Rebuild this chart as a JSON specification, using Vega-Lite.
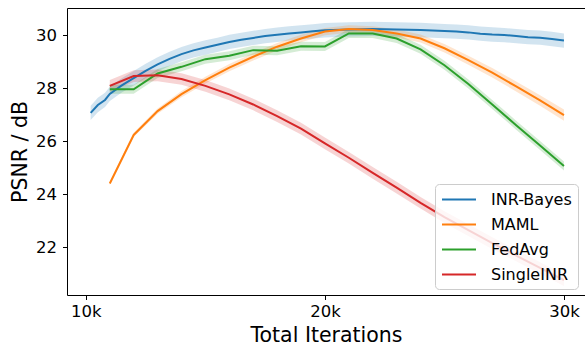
{
  "$schema": "https://vega.github.io/schema/vega-lite/v6.json",
  "width": 518,
  "height": 287,
  "autosize": "none",
  "padding": {"left": 67, "top": 8, "right": 0, "bottom": 48},
  "config": {
    "view": {"stroke": null},
    "font": "DejaVu Sans",
    "axis": {
      "domainColor": "black", "tickColor": "black", "labelColor": "black", "titleColor": "black",
      "labelFont": "DejaVu Sans", "titleFont": "DejaVu Sans",
      "labelFontSize": 16.5, "titleFontSize": 20.5, "titleFontWeight": "normal",
      "tickSize": 4.5, "domainWidth": 1, "tickWidth": 1, "grid": false, "labelFlush": false, "labelOverlap": false
    }
  },
  "data": {"values": [
    {"s": "INR-Bayes", "x": 10200, "y": 27.06, "lo": 26.79, "hi": 27.33},
    {"s": "INR-Bayes", "x": 10500, "y": 27.36, "lo": 27.09, "hi": 27.63},
    {"s": "INR-Bayes", "x": 10800, "y": 27.55, "lo": 27.28, "hi": 27.82},
    {"s": "INR-Bayes", "x": 11000, "y": 27.78, "lo": 27.51, "hi": 28.05},
    {"s": "INR-Bayes", "x": 11500, "y": 28.10, "lo": 27.83, "hi": 28.37},
    {"s": "INR-Bayes", "x": 12000, "y": 28.37, "lo": 28.10, "hi": 28.64},
    {"s": "INR-Bayes", "x": 12500, "y": 28.65, "lo": 28.38, "hi": 28.92},
    {"s": "INR-Bayes", "x": 13000, "y": 28.89, "lo": 28.62, "hi": 29.16},
    {"s": "INR-Bayes", "x": 13500, "y": 29.10, "lo": 28.83, "hi": 29.37},
    {"s": "INR-Bayes", "x": 14000, "y": 29.28, "lo": 29.01, "hi": 29.55},
    {"s": "INR-Bayes", "x": 14500, "y": 29.42, "lo": 29.15, "hi": 29.69},
    {"s": "INR-Bayes", "x": 15000, "y": 29.53, "lo": 29.26, "hi": 29.80},
    {"s": "INR-Bayes", "x": 15500, "y": 29.63, "lo": 29.36, "hi": 29.90},
    {"s": "INR-Bayes", "x": 16000, "y": 29.74, "lo": 29.47, "hi": 30.01},
    {"s": "INR-Bayes", "x": 16500, "y": 29.82, "lo": 29.55, "hi": 30.09},
    {"s": "INR-Bayes", "x": 17000, "y": 29.89, "lo": 29.62, "hi": 30.16},
    {"s": "INR-Bayes", "x": 17500, "y": 29.96, "lo": 29.69, "hi": 30.23},
    {"s": "INR-Bayes", "x": 18000, "y": 30.01, "lo": 29.74, "hi": 30.28},
    {"s": "INR-Bayes", "x": 18500, "y": 30.06, "lo": 29.79, "hi": 30.33},
    {"s": "INR-Bayes", "x": 19000, "y": 30.10, "lo": 29.83, "hi": 30.37},
    {"s": "INR-Bayes", "x": 19500, "y": 30.14, "lo": 29.87, "hi": 30.41},
    {"s": "INR-Bayes", "x": 20000, "y": 30.18, "lo": 29.91, "hi": 30.45},
    {"s": "INR-Bayes", "x": 21000, "y": 30.21, "lo": 29.94, "hi": 30.48},
    {"s": "INR-Bayes", "x": 22000, "y": 30.23, "lo": 29.96, "hi": 30.50},
    {"s": "INR-Bayes", "x": 23000, "y": 30.21, "lo": 29.94, "hi": 30.48},
    {"s": "INR-Bayes", "x": 24000, "y": 30.19, "lo": 29.92, "hi": 30.46},
    {"s": "INR-Bayes", "x": 25000, "y": 30.15, "lo": 29.88, "hi": 30.42},
    {"s": "INR-Bayes", "x": 25500, "y": 30.13, "lo": 29.86, "hi": 30.40},
    {"s": "INR-Bayes", "x": 26000, "y": 30.10, "lo": 29.83, "hi": 30.37},
    {"s": "INR-Bayes", "x": 26500, "y": 30.05, "lo": 29.78, "hi": 30.32},
    {"s": "INR-Bayes", "x": 27000, "y": 30.02, "lo": 29.75, "hi": 30.29},
    {"s": "INR-Bayes", "x": 27500, "y": 30.00, "lo": 29.73, "hi": 30.27},
    {"s": "INR-Bayes", "x": 28000, "y": 29.96, "lo": 29.69, "hi": 30.23},
    {"s": "INR-Bayes", "x": 28500, "y": 29.92, "lo": 29.65, "hi": 30.19},
    {"s": "INR-Bayes", "x": 29000, "y": 29.90, "lo": 29.63, "hi": 30.17},
    {"s": "INR-Bayes", "x": 29500, "y": 29.85, "lo": 29.58, "hi": 30.12},
    {"s": "INR-Bayes", "x": 30000, "y": 29.79, "lo": 29.52, "hi": 30.06},
    {"s": "MAML", "x": 11000, "y": 24.40, "lo": 24.35, "hi": 24.45},
    {"s": "MAML", "x": 12000, "y": 26.23, "lo": 26.15, "hi": 26.31},
    {"s": "MAML", "x": 13000, "y": 27.13, "lo": 27.03, "hi": 27.23},
    {"s": "MAML", "x": 14000, "y": 27.77, "lo": 27.65, "hi": 27.89},
    {"s": "MAML", "x": 15000, "y": 28.30, "lo": 28.17, "hi": 28.43},
    {"s": "MAML", "x": 16000, "y": 28.77, "lo": 28.63, "hi": 28.91},
    {"s": "MAML", "x": 17000, "y": 29.18, "lo": 29.04, "hi": 29.32},
    {"s": "MAML", "x": 18000, "y": 29.56, "lo": 29.42, "hi": 29.70},
    {"s": "MAML", "x": 19000, "y": 29.87, "lo": 29.73, "hi": 30.01},
    {"s": "MAML", "x": 20000, "y": 30.13, "lo": 29.99, "hi": 30.27},
    {"s": "MAML", "x": 21000, "y": 30.23, "lo": 30.09, "hi": 30.37},
    {"s": "MAML", "x": 22000, "y": 30.19, "lo": 30.05, "hi": 30.33},
    {"s": "MAML", "x": 23000, "y": 30.06, "lo": 29.91, "hi": 30.21},
    {"s": "MAML", "x": 24000, "y": 29.87, "lo": 29.72, "hi": 30.02},
    {"s": "MAML", "x": 25000, "y": 29.50, "lo": 29.34, "hi": 29.66},
    {"s": "MAML", "x": 26000, "y": 29.05, "lo": 28.88, "hi": 29.22},
    {"s": "MAML", "x": 27000, "y": 28.58, "lo": 28.40, "hi": 28.76},
    {"s": "MAML", "x": 28000, "y": 28.06, "lo": 27.87, "hi": 28.25},
    {"s": "MAML", "x": 29000, "y": 27.53, "lo": 27.33, "hi": 27.73},
    {"s": "MAML", "x": 30000, "y": 26.98, "lo": 26.77, "hi": 27.19},
    {"s": "FedAvg", "x": 11000, "y": 27.95, "lo": 27.78, "hi": 28.12},
    {"s": "FedAvg", "x": 12000, "y": 27.95, "lo": 27.78, "hi": 28.12},
    {"s": "FedAvg", "x": 13000, "y": 28.55, "lo": 28.38, "hi": 28.72},
    {"s": "FedAvg", "x": 14000, "y": 28.80, "lo": 28.63, "hi": 28.97},
    {"s": "FedAvg", "x": 15000, "y": 29.09, "lo": 28.92, "hi": 29.26},
    {"s": "FedAvg", "x": 16000, "y": 29.22, "lo": 29.05, "hi": 29.39},
    {"s": "FedAvg", "x": 17000, "y": 29.43, "lo": 29.26, "hi": 29.60},
    {"s": "FedAvg", "x": 18000, "y": 29.41, "lo": 29.24, "hi": 29.58},
    {"s": "FedAvg", "x": 19000, "y": 29.58, "lo": 29.41, "hi": 29.75},
    {"s": "FedAvg", "x": 20000, "y": 29.57, "lo": 29.40, "hi": 29.74},
    {"s": "FedAvg", "x": 21000, "y": 30.06, "lo": 29.89, "hi": 30.23},
    {"s": "FedAvg", "x": 22000, "y": 30.06, "lo": 29.89, "hi": 30.23},
    {"s": "FedAvg", "x": 23000, "y": 29.87, "lo": 29.70, "hi": 30.04},
    {"s": "FedAvg", "x": 24000, "y": 29.46, "lo": 29.29, "hi": 29.63},
    {"s": "FedAvg", "x": 25000, "y": 28.86, "lo": 28.69, "hi": 29.03},
    {"s": "FedAvg", "x": 26000, "y": 28.15, "lo": 27.98, "hi": 28.32},
    {"s": "FedAvg", "x": 27000, "y": 27.38, "lo": 27.21, "hi": 27.55},
    {"s": "FedAvg", "x": 28000, "y": 26.60, "lo": 26.43, "hi": 26.77},
    {"s": "FedAvg", "x": 29000, "y": 25.83, "lo": 25.66, "hi": 26.00},
    {"s": "FedAvg", "x": 30000, "y": 25.06, "lo": 24.89, "hi": 25.23},
    {"s": "SingleINR", "x": 11000, "y": 28.08, "lo": 27.86, "hi": 28.30},
    {"s": "SingleINR", "x": 12000, "y": 28.45, "lo": 28.23, "hi": 28.67},
    {"s": "SingleINR", "x": 13000, "y": 28.48, "lo": 28.26, "hi": 28.70},
    {"s": "SingleINR", "x": 14000, "y": 28.34, "lo": 28.12, "hi": 28.56},
    {"s": "SingleINR", "x": 15000, "y": 28.08, "lo": 27.86, "hi": 28.30},
    {"s": "SingleINR", "x": 16000, "y": 27.76, "lo": 27.54, "hi": 27.98},
    {"s": "SingleINR", "x": 17000, "y": 27.38, "lo": 27.16, "hi": 27.60},
    {"s": "SingleINR", "x": 18000, "y": 26.94, "lo": 26.72, "hi": 27.16},
    {"s": "SingleINR", "x": 19000, "y": 26.47, "lo": 26.25, "hi": 26.69},
    {"s": "SingleINR", "x": 20000, "y": 25.91, "lo": 25.69, "hi": 26.13},
    {"s": "SingleINR", "x": 21000, "y": 25.37, "lo": 25.15, "hi": 25.59},
    {"s": "SingleINR", "x": 22000, "y": 24.80, "lo": 24.58, "hi": 25.02},
    {"s": "SingleINR", "x": 23000, "y": 24.24, "lo": 24.02, "hi": 24.46},
    {"s": "SingleINR", "x": 24000, "y": 23.67, "lo": 23.45, "hi": 23.89},
    {"s": "SingleINR", "x": 25000, "y": 23.13, "lo": 22.91, "hi": 23.35},
    {"s": "SingleINR", "x": 26000, "y": 22.64, "lo": 22.42, "hi": 22.86},
    {"s": "SingleINR", "x": 27000, "y": 22.15, "lo": 21.93, "hi": 22.37},
    {"s": "SingleINR", "x": 28000, "y": 21.68, "lo": 21.46, "hi": 21.90},
    {"s": "SingleINR", "x": 29000, "y": 21.21, "lo": 20.99, "hi": 21.43},
    {"s": "SingleINR", "x": 30000, "y": 20.75, "lo": 20.53, "hi": 20.97}
  ]},
  "resolve": {"axis": {"x": "independent"}},
  "layer": [
    {
      "mark": {"type": "area", "opacity": 0.2},
      "encoding": {
        "x": {"field": "x", "type": "quantitative",
              "scale": {"domain": [9210, 30880], "nice": false, "zero": false},
              "axis": {"orient": "top", "labels": false, "ticks": false, "title": null, "domain": true}},
        "y": {"field": "lo", "type": "quantitative",
              "scale": {"domain": [20.19, 31.02], "nice": false, "zero": false},
              "axis": {"values": [22, 24, 26, 28, 30], "labelPadding": 6, "titlePadding": 5, "title": "PSNR / dB"}},
        "y2": {"field": "hi"},
        "fill": {"field": "s", "type": "nominal",
                 "scale": {"domain": ["SingleINR", "FedAvg", "MAML", "INR-Bayes"], "range": ["#d62728", "#2ca02c", "#ff7f0e", "#1f77b4"]},
                 "legend": null}
      }
    },
    {
      "mark": {"type": "line", "strokeWidth": 2},
      "encoding": {
        "x": {"field": "x", "type": "quantitative",
              "scale": {"domain": [9210, 30880], "nice": false, "zero": false},
              "axis": {"orient": "bottom", "values": [10000, 20000, 30000], "labelExpr": "datum.value / 1000 + 'k'", "labelPadding": 4, "titlePadding": 5.5, "title": "Total Iterations"}},
        "y": {"field": "y", "type": "quantitative",
              "scale": {"domain": [20.19, 31.02], "nice": false, "zero": false},
              "axis": {"values": [22, 24, 26, 28, 30], "labelPadding": 6, "titlePadding": 5, "title": "PSNR / dB"}},
        "stroke": {"field": "s", "type": "nominal",
                   "scale": {"domain": ["INR-Bayes", "MAML", "FedAvg", "SingleINR"], "range": ["#1f77b4", "#ff7f0e", "#2ca02c", "#d62728"]},
                   "legend": {"title": null, "orient": "none", "legendX": 368, "legendY": 176, "padding": 6,
                              "strokeColor": "#cccccc", "fillColor": "rgba(255,255,255,0.8)", "cornerRadius": 4,
                              "symbolType": "M-1,0H3", "symbolSize": 289, "symbolStrokeWidth": 2,
                              "labelFont": "DejaVu Sans", "labelFontSize": 16, "labelColor": "black", "labelOffset": 31, "rowPadding": 7}}
      }
    }
  ]
}
